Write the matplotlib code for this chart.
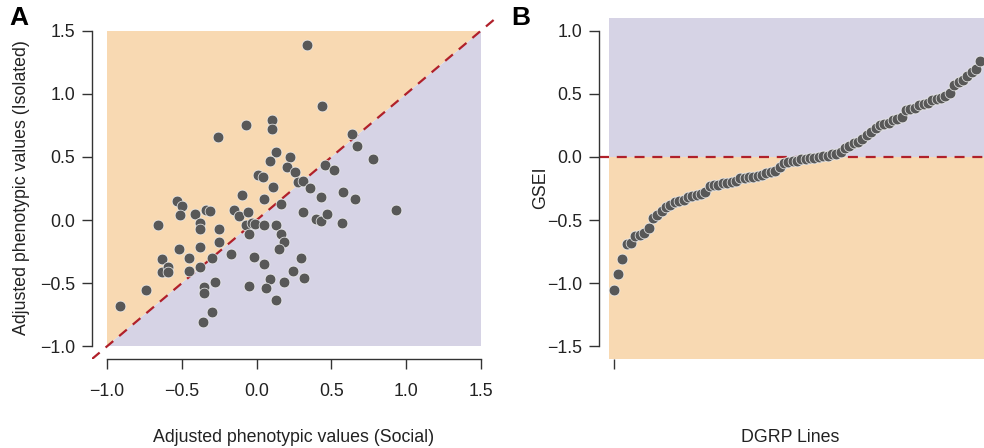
import matplotlib
matplotlib.use('Agg')
import matplotlib.pyplot as plt
import numpy as np

plt.rcParams['font.family'] = ['Liberation Sans', 'DejaVu Sans']

# Panel A: adjusted phenotypic values per line
social = [0.34, 0.44, -0.07, 0.10, 0.10, -0.26, 0.64, 0.67, 0.78, 0.13,
          0.09, 0.22, 0.20, 0.46, 0.52, 0.01, 0.04, 0.26, 0.28, 0.31,
          0.11, 0.36, -0.10, 0.05, 0.16, 0.43, 0.58, 0.66, 0.93, -0.34,
          -0.31, -0.15, -0.12, -0.06, 0.31, 0.40, 0.43, 0.47, 0.57, -0.53,
          -0.50, -0.51, -0.41, -0.66, -0.38, -0.38, -0.25, -0.07, -0.05, -0.03,
          -0.01, 0.05, 0.13, 0.16, 0.18, 0.15, -0.52, -0.38, -0.25, -0.63,
          -0.45, -0.30, -0.17, -0.02, 0.05, 0.30, 0.24, 0.32, -0.63, -0.59,
          -0.59, -0.45, -0.38, 0.09, 0.18, 0.06, -0.05, 0.13, -0.28, -0.35,
          -0.35, -0.74, -0.91, -0.30, -0.36]
isolated = [1.39, 0.90, 0.75, 0.79, 0.72, 0.66, 0.68, 0.59, 0.48, 0.54,
            0.47, 0.50, 0.42, 0.44, 0.40, 0.36, 0.34, 0.38, 0.30, 0.31,
            0.26, 0.25, 0.20, 0.17, 0.13, 0.18, 0.22, 0.17, 0.08, 0.08,
            0.07, 0.08, 0.03, 0.06, 0.06, 0.01, -0.01, 0.05, -0.02, 0.15,
            0.11, 0.04, 0.05, -0.04, -0.02, -0.07, -0.07, -0.04, -0.11, -0.02,
            -0.03, -0.04, -0.04, -0.11, -0.17, -0.23, -0.23, -0.21, -0.17, -0.31,
            -0.30, -0.30, -0.27, -0.29, -0.35, -0.30, -0.40, -0.46, -0.41, -0.37,
            -0.41, -0.40, -0.37, -0.47, -0.49, -0.54, -0.52, -0.63, -0.49, -0.53,
            -0.58, -0.55, -0.68, -0.73, -0.81]

# Panel B: GSEI, sorted
gsei = [-1.05, -0.93, -0.81, -0.69, -0.68, -0.63, -0.62, -0.60, -0.56, -0.48,
        -0.46, -0.43, -0.40, -0.38, -0.36, -0.35, -0.34, -0.32, -0.31, -0.30,
        -0.29, -0.28, -0.23, -0.22, -0.22, -0.21, -0.21, -0.20, -0.19, -0.17,
        -0.165, -0.16, -0.155, -0.15, -0.14, -0.13, -0.12, -0.11, -0.08, -0.05,
        -0.04, -0.035, -0.03, -0.02, -0.015, -0.01, -0.005, 0.0, 0.005, 0.01,
        0.02, 0.025, 0.04, 0.07, 0.09, 0.11, 0.12, 0.14, 0.17, 0.20,
        0.23, 0.25, 0.26, 0.27, 0.29, 0.30, 0.32, 0.37, 0.38, 0.39,
        0.41, 0.42, 0.43, 0.45, 0.46, 0.47, 0.48, 0.51, 0.57, 0.59,
        0.61, 0.64, 0.67, 0.70, 0.76]

ticks_a = [-1.0, -0.5, 0.0, 0.5, 1.0, 1.5]
ticks_b = [-1.5, -1.0, -0.5, 0.0, 0.5, 1.0]

orange = '#F8D9B2'
purple = '#D6D3E5'
pt_col = '#585858'
red = '#B0202A'
axcol = '#333333'
fs = 12.8

W, H = 984, 448
fig = plt.figure(figsize=(W / 100, H / 100), dpi=100)


def add_ax(l, t, r, b):
    return fig.add_axes([l / W, 1 - b / H, (r - l) / W, (b - t) / H])


def r_style(ax):
    for s in ['top', 'right']:
        ax.spines[s].set_visible(False)
    for s in ['left', 'bottom']:
        ax.spines[s].set_color(axcol)
        ax.spines[s].set_linewidth(1.0)
    ax.tick_params(colors=axcol, labelcolor='#222222', labelsize=fs,
                   length=7, width=1.0)
    ax.tick_params(axis='y', pad=5)
    ax.tick_params(axis='x', pad=10)
    ax.patch.set_alpha(0)


# ---- A ----
axA = add_ax(92, 18, 496, 359)
lo, hi = ticks_a[0], ticks_a[-1]
pad = 0.04 * (hi - lo)
axA.set_xlim(lo - pad, hi + pad)
axA.set_ylim(lo - pad, hi + pad)
axA.fill([lo, lo, hi], [lo, hi, hi], color=orange, lw=0, zorder=0)
axA.fill([lo, hi, hi], [lo, lo, hi], color=purple, lw=0, zorder=0)
axA.axline((0, 0), slope=1, color=red, lw=1.6, dashes=(4.5, 3.5), zorder=1)
axA.scatter(social, isolated, s=60, c=pt_col, edgecolors='#f2f2f2',
            linewidths=0.5, zorder=3)
r_style(axA)
axA.set_xticks(ticks_a)
axA.set_yticks(ticks_a)
axA.spines['left'].set_bounds(lo, hi)
axA.spines['bottom'].set_bounds(lo, hi)

fig.text(294 / W, 1 - 437 / H, 'Adjusted phenotypic values (Social)',
         ha='center', va='center', fontsize=fs, color='#222222')
fig.text(22 / W, 1 - 188 / H, 'Adjusted phenotypic values (Isolated)',
         ha='center', va='center', rotation=90, fontsize=fs, color='#222222')
fig.text(19 / W, 1 - 18 / H, 'A', ha='center', va='center',
         fontsize=19, fontweight='bold')

# ---- B ----
n = len(gsei)
idx = np.arange(1, n + 1)
axB = add_ax(599, 18, 995, 359)
xpad = 0.04 * (n - 1)
blo, bhi = ticks_b[0], ticks_b[-1]
ypad = 0.04 * (bhi - blo)
axB.set_xlim(1 - xpad, n + xpad)
axB.set_ylim(blo - ypad, bhi + ypad)
axB.fill_between([0, n + 1], 0, bhi + ypad, color=purple, lw=0, zorder=0)
axB.fill_between([0, n + 1], blo - ypad, 0, color=orange, lw=0, zorder=0)
axB.axhline(0, color=red, lw=1.6, dashes=(4.5, 3.5), zorder=1)
axB.scatter(idx, gsei, s=60, c=pt_col, edgecolors='#f2f2f2',
            linewidths=0.5, zorder=3)
r_style(axB)
axB.set_yticks(ticks_b)
axB.set_xticks([1])
axB.set_xticklabels([])
axB.spines['left'].set_bounds(blo, bhi)
axB.spines['bottom'].set_visible(False)

fig.text(790 / W, 1 - 437 / H, 'DGRP Lines', ha='center', va='center',
         fontsize=fs, color='#222222')
fig.text(541 / W, 1 - 188 / H, 'GSEI', ha='center', va='center',
         rotation=90, fontsize=fs, color='#222222')
fig.text(521 / W, 1 - 18 / H, 'B', ha='center', va='center',
         fontsize=19, fontweight='bold')

fig.savefig('out.png', dpi=100)
